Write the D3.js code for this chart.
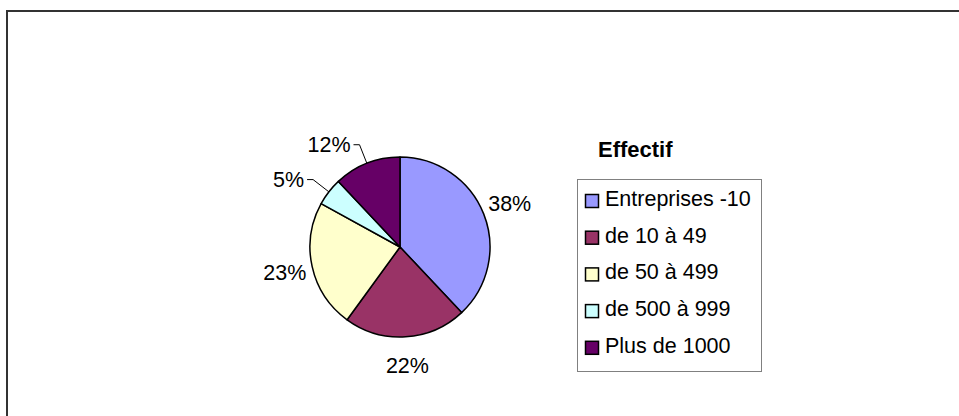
<!DOCTYPE html>
<html lang="fr">
<head>
    <meta charset="UTF-8">
    <title>Effectif</title>
    <script src="https://d3js.org/d3.v7.min.js"></script>
    <style>
        body { margin: 0; background: #fff; }
        text { font-family: "Liberation Sans", Arial, sans-serif; fill: #000; }
    </style>
</head>
<body>
    <script>
        // Data
        const categories = ["Entreprises -10", "de 10 à 49", "de 50 à 499", "de 500 à 999", "Plus de 1000"];
        const values = [38, 22, 23, 5, 12];
        const colors = ["#9999FF", "#993366", "#FFFFCC", "#CCFFFF", "#660066"];
        const legendTitle = "Effectif";

        const width = 959, height = 416;
        const svg = d3.select("body")
            .append("svg")
            .attr("width", width)
            .attr("height", height);

        // Outer frame (runs off the right and bottom edges)
        svg.append("rect")
            .attr("x", 7)
            .attr("y", 11)
            .attr("width", 1000)
            .attr("height", 500)
            .attr("fill", "none")
            .attr("stroke", "#333")
            .attr("stroke-width", 2);

        const cx = 400, cy = 247, r = 90;
        const total = d3.sum(values);
        const fontSize = "21.5px";

        const pie = d3.pie().sort(null).value(d => d.value);
        const data = pie(categories.map((c, i) => ({name: c, value: values[i], color: colors[i]})));
        const arc = d3.arc().innerRadius(0).outerRadius(r);

        const g = svg.append("g").attr("transform", `translate(${cx},${cy})`);

        g.selectAll("path")
            .data(data)
            .join("path")
            .attr("d", arc)
            .attr("fill", d => d.data.color)
            .attr("stroke", "#000")
            .attr("stroke-width", 1.5)
            .attr("stroke-linejoin", "round");

        // point on a circle of radius rad at the slice's mid angle
        const mid = d => (d.startAngle + d.endAngle) / 2;
        const pt = (d, rad) => [Math.sin(mid(d)) * rad, -Math.cos(mid(d)) * rad];
        const fmt = d => Math.round(d.value / total * 100) + "%";

        const labels = g.append("g");
        data.forEach(d => {
            const share = d.value / total;
            if (share >= 0.15) {
                const [x, y] = pt(d, r + 28);
                labels.append("text")
                    .attr("x", x)
                    .attr("y", y)
                    .attr("dy", "0.36em")
                    .attr("text-anchor", "middle")
                    .style("font-size", fontSize)
                    .text(fmt(d));
            } else {
                // small slices: label pushed out to the left with a leader line
                const [ex, ey] = pt(d, r);
                const [lx, ly] = pt(d, r + 20);
                const tx = lx - 9;
                labels.append("text")
                    .attr("x", tx)
                    .attr("y", ly)
                    .attr("dy", "0.36em")
                    .attr("text-anchor", "end")
                    .style("font-size", fontSize)
                    .text(fmt(d));
                labels.append("path")
                    .attr("d", d3.line()([[tx + 3, ly], [tx + 9, ly], [ex, ey]]))
                    .attr("fill", "none")
                    .attr("stroke", "#000")
                    .attr("stroke-width", 1);
            }
        });

        // Legend
        const lx0 = 577, ly0 = 179, lw = 184, lh = 192;
        svg.append("text")
            .attr("x", 598)
            .attr("y", 157)
            .style("font-size", "22px")
            .style("font-weight", "bold")
            .text(legendTitle);

        svg.append("rect")
            .attr("x", lx0 + 0.5)
            .attr("y", ly0 + 0.5)
            .attr("width", lw)
            .attr("height", lh)
            .attr("fill", "#fff")
            .attr("stroke", "#808080")
            .attr("stroke-width", 1);

        const ly = d3.scalePoint()
            .domain(categories)
            .range([206, 206 + 36.7 * (categories.length - 1)]);

        const item = svg.append("g")
            .selectAll("g")
            .data(categories)
            .join("g")
            .attr("transform", d => `translate(0,${ly(d)})`);

        item.append("rect")
            .attr("x", 585.5)
            .attr("y", -11.5)
            .attr("width", 13)
            .attr("height", 13)
            .attr("fill", (d, i) => colors[i])
            .attr("stroke", "#000")
            .attr("stroke-width", 1.5);

        item.append("text")
            .attr("x", 605)
            .attr("y", 0)
            .style("font-size", fontSize)
            .text(d => d);
    </script>
</body>
</html>
